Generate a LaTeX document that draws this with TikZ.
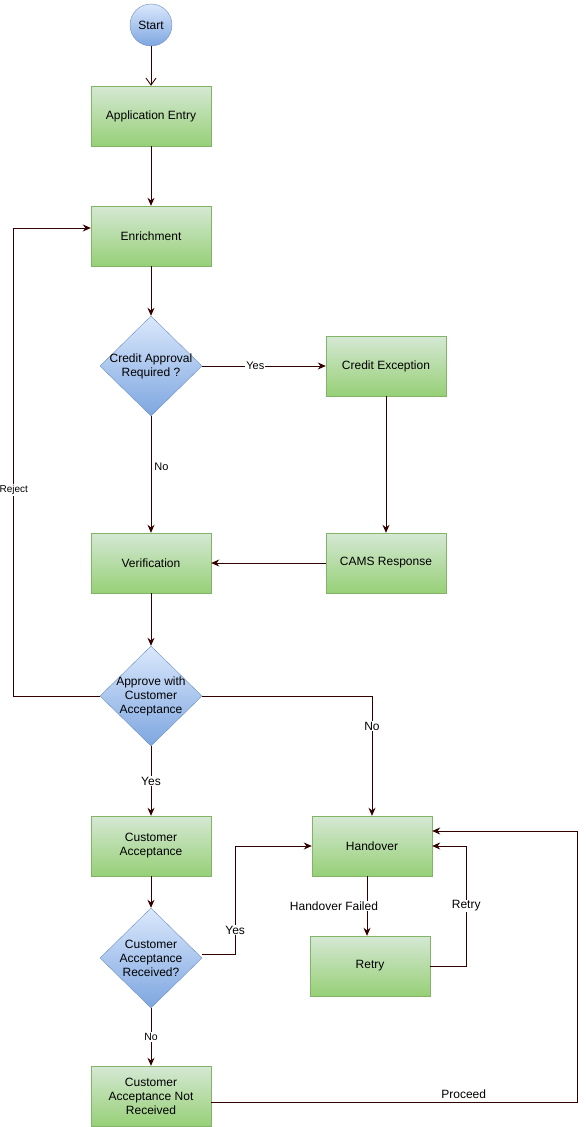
\documentclass[tikz,border=0pt]{standalone}
\usepackage{fontspec}
\setmainfont{Liberation Sans}
\usepackage{tikz}
\usetikzlibrary{shapes.geometric,arrows.meta,positioning}
\definecolor{greentop}{HTML}{D5E8D4}
\definecolor{greenbot}{HTML}{97D077}
\definecolor{greenline}{HTML}{82B366}
\definecolor{bluetop}{HTML}{DAE8FC}
\definecolor{bluebot}{HTML}{7EA6E0}
\definecolor{blueline}{HTML}{6C8EBF}
\definecolor{arrowcol}{HTML}{330000}
\tikzstyle{block} = [rectangle, draw=greenline, top color=greentop,
    bottom color=greenbot, minimum width=120pt, minimum height=60pt,
    align=center, font=\fontsize{12}{14}\selectfont]
\tikzstyle{decision} = [diamond, draw=blueline, top color=bluetop,
    bottom color=bluebot, minimum width=102pt, minimum height=100pt,
    inner sep=-6pt, align=center, font=\fontsize{12}{14}\selectfont]
\tikzstyle{startnode} = [circle, draw=blueline, top color=bluetop,
    bottom color=bluebot, minimum size=42pt, inner sep=0pt,
    font=\fontsize{12}{14}\selectfont]
\tikzstyle{link} = [draw=arrowcol, line width=0.9pt,
    -{Stealth[length=8pt,width=7pt]}]
\tikzstyle{edgelabel} = [fill=white, inner sep=1pt, text=black,
    font=\fontsize{12}{14}\selectfont]

\begin{document}
\begin{tikzpicture}[x=1pt, y=1pt, node distance=120pt]
  \useasboundingbox (0,0) rectangle (586,-1127);
  % Place nodes
  \node [startnode] (start) at (151,-25) {Start};
  \node [block, below of=start, node distance=91pt] (entry) {Application Entry};
  \node [block, below of=entry] (enrich) {Enrichment};
  \node [decision, below of=enrich, node distance=130pt] (credit)
  {Credit Approval\\Required ?};
  \node [block, right of=credit, node distance=235pt] (exception)
  {Credit Exception};
  \node [block, below of=credit, node distance=197pt] (verif) {Verification};
  \node [block, right of=verif, node distance=235pt] (cams) {CAMS Response};
  \node [decision, below of=verif, node distance=133pt] (approve)
  {Approve with\\Customer\\Acceptance};
  \node [block, below of=approve, node distance=150pt] (custacc)
  {Customer\\Acceptance};
  \node [block, right of=custacc, node distance=221pt] (handover) {Handover};
  \node [decision, below of=custacc, node distance=112pt] (received)
  {Customer\\Acceptance\\Received?};
  \node [block, below of=handover, xshift=-2pt] (retry) {Retry};
  \node [block, below of=received, node distance=138pt] (notrecv)
  {Customer\\Acceptance Not\\Received};
  % Draw edges
  \draw [draw=arrowcol, line width=0.9pt,
    -{Straight Barb[length=7pt,width=10pt]}] (start) -- (entry);
  \draw [link] (entry) -- (enrich);
  \draw [link] (enrich) -- (credit);
  \draw [link] (credit) -- node [edgelabel, pos=0.43,
    font=\fontsize{11}{13}\selectfont] {Yes} (exception);
  \draw [link] (credit) -- node [right, pos=0.43, inner sep=3pt,
    font=\fontsize{11}{13}\selectfont] {No} (verif);
  \draw [link] (exception) -- (cams);
  \draw [link] (cams) -- (verif);
  \draw [link] (verif) -- (approve);
  \draw [link] (approve.west) -- ++(-86,0) |- node [edgelabel, pos=0.22,
    font=\fontsize{10}{12}\selectfont] {Reject} ([yshift=8pt]enrich.west);
  \draw [link] (approve.east) -| node [edgelabel, pos=0.625] {No}
    (handover.north);
  \draw [link] (approve) -- node [edgelabel] {Yes} (custacc);
  \draw [link] (custacc) -- (received);
  \draw [link] ([yshift=4pt]received.east) -- ++(33,0) |-
    node [edgelabel, pos=0.11] {Yes} (handover.west);
  \draw [link] (received) -- node [edgelabel,
    font=\fontsize{10.5}{12}\selectfont] {No} (notrecv);
  \draw [link] ([xshift=-5pt]handover.south) -- node [edgelabel, xshift=-33pt]
    {Handover Failed} ([xshift=-3pt]retry.north);
  \draw [link] (retry.east) -- ++(36,0) |- node [edgelabel, pos=0.25] {Retry}
    (handover.east);
  \draw [link] ([yshift=-6pt]notrecv.east) -- node [above, pos=0.69,
    font=\fontsize{12}{14}\selectfont] {Proceed} ++(366,0) |-
    ([yshift=15pt]handover.east);
\end{tikzpicture}
\end{document}
